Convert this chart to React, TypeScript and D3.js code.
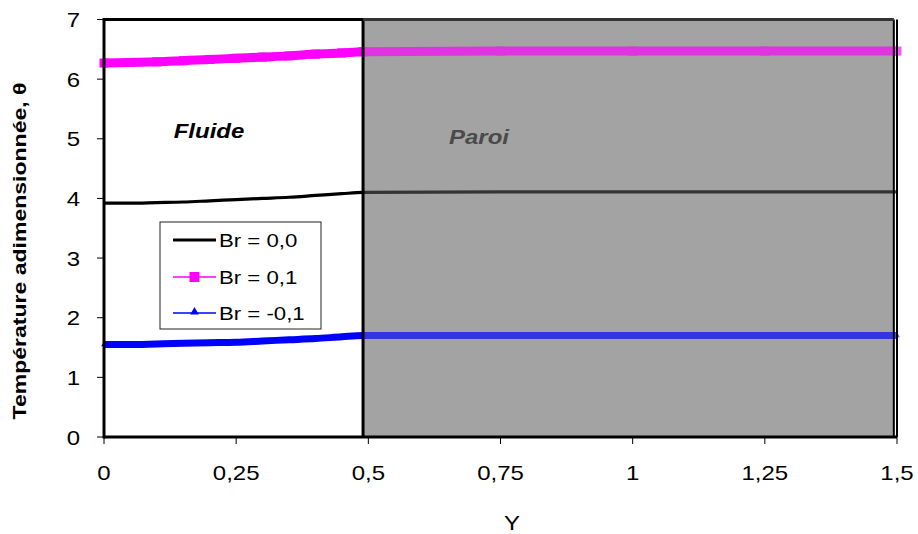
import React from "react";
import * as d3 from "d3";

const yPos = [0, 0.05, 0.1, 0.15, 0.2, 0.25, 0.3, 0.35, 0.4, 0.45, 0.49, 0.75, 1, 1.25, 1.5];
const br00 = [3.92, 3.92, 3.93, 3.94, 3.96, 3.98, 4.0, 4.02, 4.05, 4.08, 4.1, 4.11, 4.11, 4.11, 4.11];
const br01 = [6.27, 6.28, 6.29, 6.31, 6.33, 6.35, 6.37, 6.39, 6.42, 6.44, 6.46, 6.47, 6.47, 6.47, 6.47];
const brm01 = [1.55, 1.55, 1.56, 1.57, 1.58, 1.59, 1.61, 1.63, 1.65, 1.68, 1.7, 1.7, 1.7, 1.7, 1.7];
const seriesNames = ["Br = 0,0", "Br = 0,1", "Br = -0,1"];
const xTicks = [0, 0.25, 0.5, 0.75, 1, 1.25, 1.5];
const xTickLabels = ["0", "0,25", "0,5", "0,75", "1", "1,25", "1,5"];
const yTicks = [0, 1, 2, 3, 4, 5, 6, 7];
const wallRange = [0.49, 1.494];

const FONT = "'Liberation Sans', Arial, Helvetica, sans-serif";
const SX = 1.2;

export default function App() {
  const W = 918, H = 534;
  const x = d3.scaleLinear().domain([0, 1.5]).range([104, 897]);
  const y = d3.scaleLinear().domain([0, 7]).range([437, 19.5]);
  const line = d3.line<number>().x((_, i) => x(yPos[i])).y((d) => y(d)).curve(d3.curveMonotoneX);

  const series = [
    { name: seriesNames[0], data: br00, color: "#000000", width: 3.2, marker: "none" },
    { name: seriesNames[1], data: br01, color: "#ff00ff", width: 9, marker: "square" },
    { name: seriesNames[2], data: brm01, color: "#0000ff", width: 7, marker: "triangle" },
  ];

  const wx0 = x(wallRange[0]);
  const wx1 = x(wallRange[1]);
  const tri = d3.symbol().type(d3.symbolTriangle).size(14)();
  const triLeg = d3.symbol().type(d3.symbolTriangle).size(32)();

  const drawSeries = (opacity: number) =>
    series.map((s) => (
      <g key={s.name} opacity={opacity}>
        <path d={line(s.data) || ""} fill="none" stroke={s.color} strokeWidth={s.width} />
        {s.marker === "square" &&
          s.data.map((v, i) => (
            <rect key={i} x={x(yPos[i]) - 4.5} y={y(v) - 4.5} width={9} height={9} fill={s.color} />
          ))}
        {s.marker === "triangle" &&
          s.data.map((v, i) => (
            <path key={i} d={tri || ""} transform={`translate(${x(yPos[i])},${y(v)})`} fill={s.color} />
          ))}
      </g>
    ));

  const legX = 160, legY = 222, legW = 161, legH = 107;
  const legRows = [240, 277, 313];

  return (
    <svg width={W} height={H} style={{ position: "absolute", left: 0, top: 0, background: "#fff" }} fontFamily={FONT}>
      <defs>
        <clipPath id="fluid">
          <rect x={0} y={0} width={wx0} height={H} />
        </clipPath>
        <clipPath id="wall">
          <rect x={wx0} y={0} width={W - wx0} height={H} />
        </clipPath>
      </defs>
      <rect x={x(0)} y={y(7)} width={x(1.5) - x(0)} height={y(0) - y(7)} fill="#fff" />
      <g clipPath="url(#fluid)">{drawSeries(1)}</g>
      <rect x={wx0} y={y(7)} width={wx1 - wx0} height={y(0) - y(7)} fill="#a3a3a3" stroke="none" />
      <g clipPath="url(#wall)">{drawSeries(0.68)}</g>
      <line x1={wx0} x2={wx0} y1={y(7)} y2={y(0)} stroke="#000" strokeWidth={3} />
      <line x1={wx1} x2={wx1} y1={y(7)} y2={y(0)} stroke="#000" strokeWidth={2} />
      <line x1={wx0} x2={wx1} y1={y(7)} y2={y(7)} stroke="#333" strokeWidth={3} />
      <line x1={x(0)} x2={wx0} y1={y(7)} y2={y(7)} stroke="#000" strokeWidth={3} />
      <line x1={x(1.5)} x2={x(1.5)} y1={y(7)} y2={y(0)} stroke="#000" strokeWidth={2} />
      <line x1={x(0)} x2={x(0)} y1={y(7) - 1.5} y2={y(0) + 1.5} stroke="#000" strokeWidth={3} />
      <line x1={x(0)} x2={x(1.5)} y1={y(0)} y2={y(0)} stroke="#000" strokeWidth={3} />
      {yTicks.map((t) => (
        <g key={t}>
          <line x1={x(0) - 7} x2={x(0)} y1={y(t)} y2={y(t)} stroke="#000" strokeWidth={1} />
          <text transform={`translate(80,${y(t) + 7.5}) scale(${SX},1)`} textAnchor="end" fontSize={20} fill="#000">
            {t}
          </text>
        </g>
      ))}
      {xTicks.map((t, i) => (
        <g key={t}>
          <line x1={x(t)} x2={x(t)} y1={y(0)} y2={y(0) + 7} stroke="#000" strokeWidth={1} />
          <text transform={`translate(${x(t)},480) scale(${SX},1)`} textAnchor="middle" fontSize={20} fill="#000">
            {xTickLabels[i]}
          </text>
        </g>
      ))}
      <text transform={`translate(512,530) scale(${SX},1)`} textAnchor="middle" fontSize={20} fill="#000">
        Y
      </text>
      <text
        transform={`translate(26,251) rotate(-90) scale(1.28,1)`}
        textAnchor="middle"
        fontSize={18}
        fontWeight="bold"
        fill="#000"
      >
        Température adimensionnée, θ
      </text>
      <text transform={`translate(209,138) scale(${SX},1)`} textAnchor="middle" fontSize={20} fontWeight="bold" fontStyle="italic" fill="#000">
        Fluide
      </text>
      <text transform={`translate(479,144) scale(${SX},1)`} textAnchor="middle" fontSize={20} fontWeight="bold" fontStyle="italic" fill="#4a4a4a">
        Paroi
      </text>
      <rect x={legX} y={legY} width={legW} height={legH} fill="#fff" stroke="#222" strokeWidth={1} />
      {series.map((s, i) => (
        <g key={s.name}>
          <line x1={173} x2={216} y1={legRows[i]} y2={legRows[i]} stroke={s.color} strokeWidth={i === 0 ? 3 : 1.5} />
          {s.marker === "square" && <rect x={189.5} y={legRows[i] - 5} width={10} height={10} fill={s.color} />}
          {s.marker === "triangle" && (
            <path d={triLeg || ""} transform={`translate(194.5,${legRows[i] - 1})`} fill={s.color} />
          )}
          <text transform={`translate(219,${legRows[i] + 7}) scale(${SX},1)`} fontSize={18.5} fill="#000">
            {s.name}
          </text>
        </g>
      ))}
    </svg>
  );
}
